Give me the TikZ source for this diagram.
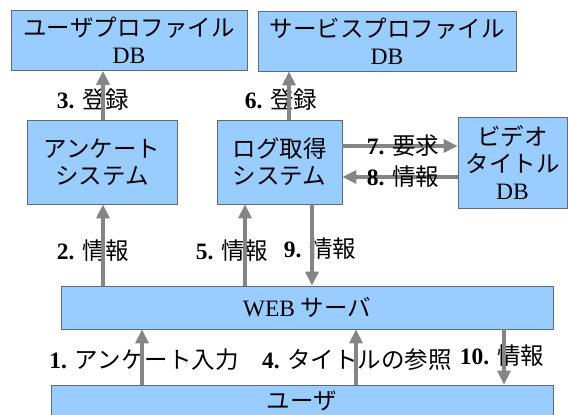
\documentclass[tikz,border=0pt]{standalone}
\usepackage{fontspec}
\setmainfont{Liberation Serif}
\newfontfamily\jp{Noto Sans CJK JP}
\usetikzlibrary{arrows.meta}
\definecolor{boxfill}{HTML}{99CCFF}
\definecolor{boxline}{HTML}{5F6B78}
\definecolor{arrgray}{HTML}{858585}
\begin{document}
\begin{tikzpicture}[x=1pt,y=-1pt,
  box/.style={draw=boxline,line width=0.8pt,fill=boxfill,align=center,inner sep=0pt,
    font=\fontsize{23.5}{27}\selectfont},
  arr/.style={draw=arrgray,line width=4pt,-{Triangle[width=13pt,length=14pt]}},
  lbl/.style={font=\fontsize{23.5}{27}\selectfont,inner sep=0pt}]
\useasboundingbox (0,0) rectangle (568,415);
% boxes
\node[box,minimum width=236pt,minimum height=60pt] (updb) at (129,40.5) {{\jp ユーザプロファイル}\\DB};
\node[box,minimum width=258pt,minimum height=60pt] (spdb) at (387,41) {{\jp サービスプロファイル}\\DB};
\node[box,minimum width=150pt,minimum height=84pt] (anq) at (102,162) {\jp アンケート\\\jp システム};
\node[box,minimum width=125pt,minimum height=84pt] (log) at (279.5,162) {\jp ログ取得\\\jp システム};
\node[box,minimum width=109pt,minimum height=91pt] (vid) at (512.5,162.5) {\jp ビデオ\\\jp タイトル\\DB};
\node[box,minimum width=492pt,minimum height=43pt] (web) at (307,307.5) {WEB {\jp サーバ}};
\node[box,minimum width=502pt,minimum height=36pt,text depth=6pt] (user) at (302,403) {\jp ユーザ};
% labels (under vertical arrows)
\node[lbl] (l3) at (93,100) {\textbf{3.} {\jp 登録}};
\node[lbl] (l6) at (281,100) {\textbf{6.} {\jp 登録}};
\node[lbl] (l2) at (93,251) {\textbf{2.} {\jp 情報}};
\node[lbl] (l5) at (232,251) {\textbf{5.} {\jp 情報}};
\node[lbl] (l9) at (320,249) {\textbf{9.} {\jp 情報}};
\node[lbl] (l1) at (144,360) {\textbf{1.} {\jp アンケート入力}};
\node[lbl] (l4) at (357,360) {\textbf{4.} {\jp タイトルの参照}};
\node[lbl] (l10) at (502,356) {\textbf{10.} {\jp 情報}};
% vertical arrows
\draw[arr] ([xshift=1pt]anq.north) -- ([xshift=1pt]anq.north |- updb.south);
\draw[arr] ([xshift=9.5pt]log.north) -- ([xshift=9.5pt]log.north |- spdb.south);
\draw[arr] ([xshift=1pt]anq.south |- web.north) -- ([xshift=1pt]anq.south);
\draw[arr] ([xshift=-34.5pt]log.south |- web.north) -- ([xshift=-34.5pt]log.south);
\draw[arr] ([xshift=32.5pt]log.south) -- ([xshift=32.5pt]log.south |- web.north);
\draw[arr] ([xshift=-160pt]user.north) -- ([xshift=-160pt]user.north |- web.south);
\draw[arr] ([xshift=54pt]user.north) -- ([xshift=54pt]user.north |- web.south);
\draw[arr] ([xshift=202pt]user.north |- web.south) -- ([xshift=202pt]user.north);
% horizontal arrows
\draw[arr] ([yshift=16pt]log.east) -- ([yshift=16pt]log.east -| vid.west);
\draw[arr] ([yshift=-15pt]log.east -| vid.west) -- ([yshift=-15pt]log.east);
\node[lbl] (l7) at (403,146) {\textbf{7.} {\jp 要求}};
\node[lbl] (l8) at (403,177) {\textbf{8.} {\jp 情報}};
\end{tikzpicture}
\end{document}
